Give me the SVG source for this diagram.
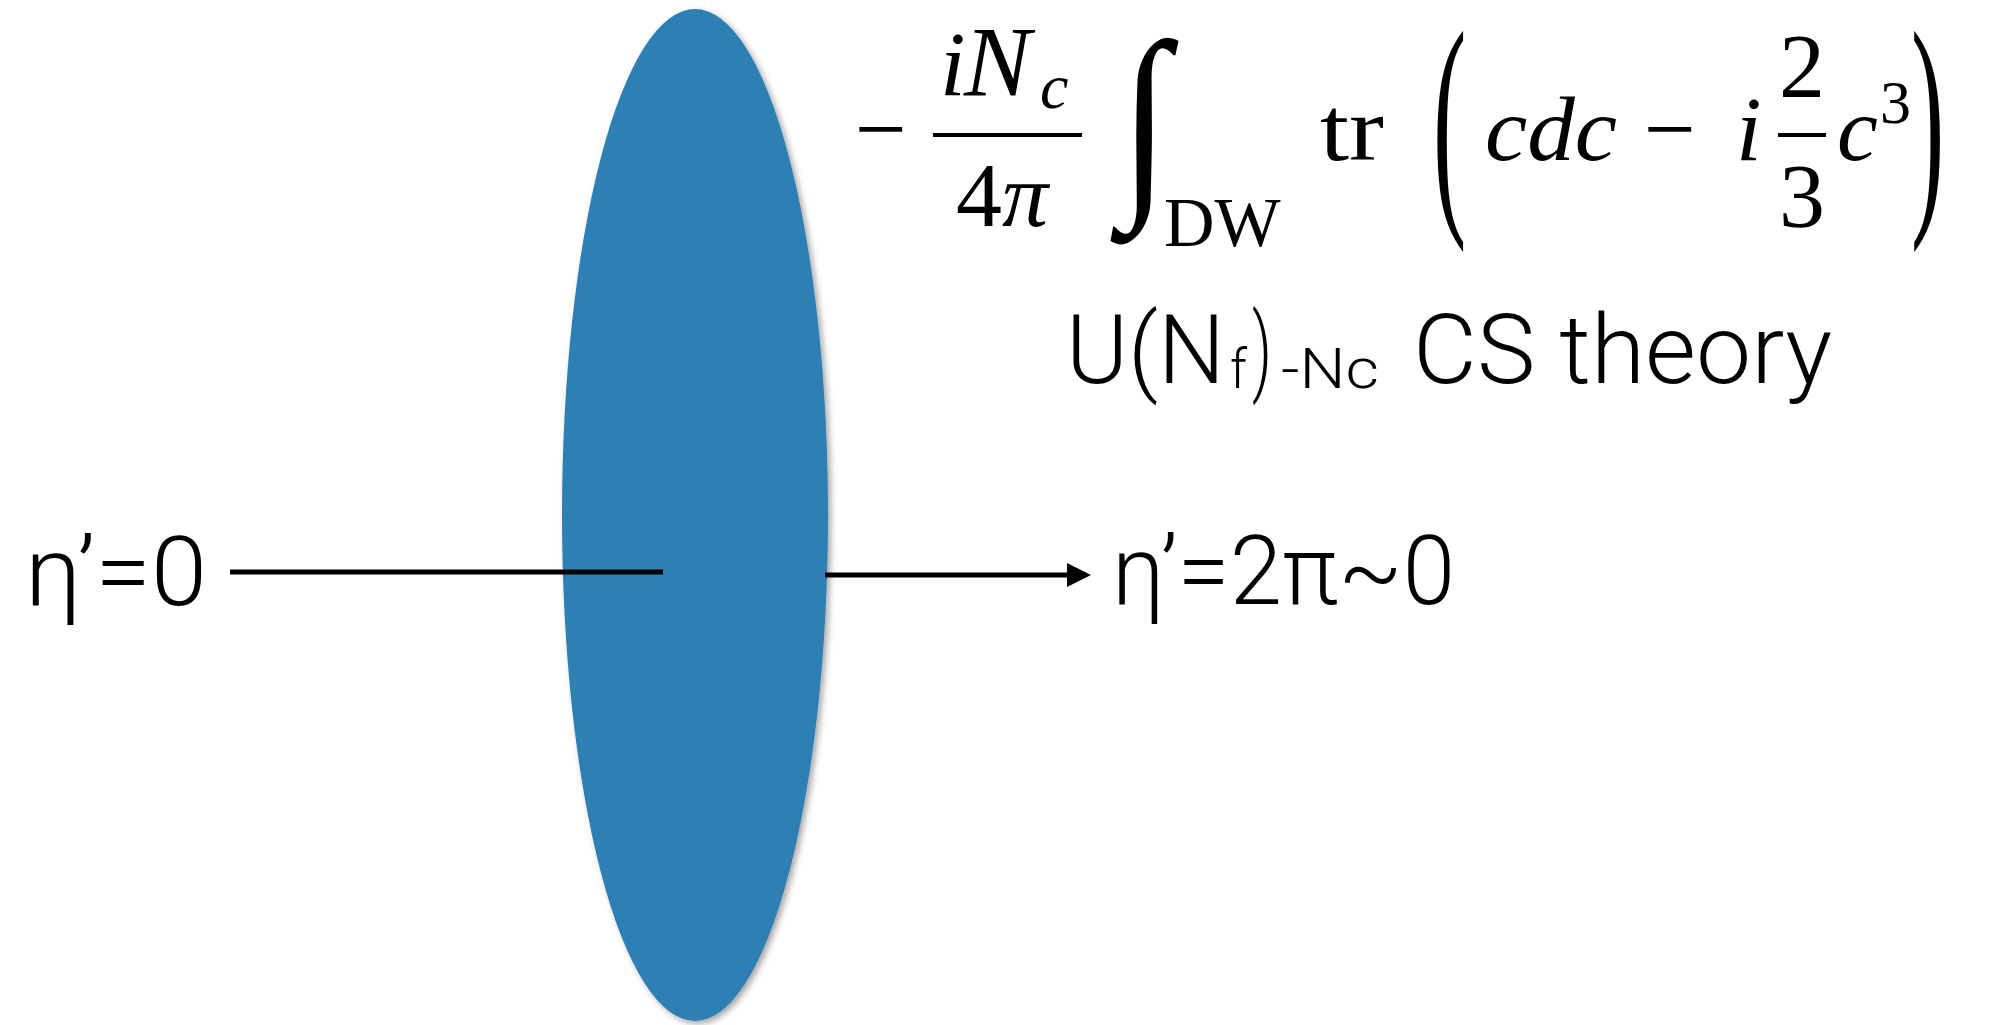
<svg xmlns="http://www.w3.org/2000/svg" width="2006" height="1025" viewBox="0 0 2006 1025">
  <style>
    .lbl { font-family: Roboto, "Liberation Sans", sans-serif; font-weight: 300; fill: #000; }
    .m { font-family: "Liberation Serif", "DejaVu Serif", serif; fill: #000; }
    .it { font-style: italic; }
    .conn { stroke: #000; stroke-width: 5; fill: none; }
  </style>
  <defs>
    <filter id="shadow" x="-20%" y="-5%" width="140%" height="110%">
      <feDropShadow dx="3" dy="3" stdDeviation="3" flood-color="#000" flood-opacity="0.35"/>
    </filter>
    <marker id="arrow" markerUnits="userSpaceOnUse" viewBox="0 0 24 24" markerWidth="24" markerHeight="24" refX="0" refY="12" orient="auto">
      <path d="M0,0 L24,12 L0,24 z" fill="#000"/>
    </marker>
  </defs>
  <rect width="2006" height="1025" fill="#fff"/>

  <g id="domain-wall">
    <ellipse cx="695" cy="515" rx="133" ry="506" fill="#2f80b4" filter="url(#shadow)"/>
  </g>

  <g id="label-left">
    <text class="lbl" x="25" y="605" font-size="97" textLength="182" lengthAdjust="spacingAndGlyphs">η’=0</text>
  </g>

  <g id="label-right">
    <text class="lbl" x="1112" y="604" font-size="97" textLength="343" lengthAdjust="spacingAndGlyphs">η’=2π~0</text>
  </g>

  <g id="label-cs">
    <text class="lbl" x="1066" y="383" font-size="97" textLength="159" lengthAdjust="spacingAndGlyphs">U(N</text>
    <text class="lbl" x="1230" y="388" font-size="56" textLength="17" lengthAdjust="spacingAndGlyphs">f</text>
    <text class="lbl" x="1252" y="383" font-size="97" textLength="20" lengthAdjust="spacingAndGlyphs">)</text>
    <text class="lbl" x="1281" y="388" font-size="56" textLength="98" lengthAdjust="spacingAndGlyphs">-Nc</text>
    <text class="lbl" x="1413" y="383" font-size="97" textLength="419" lengthAdjust="spacingAndGlyphs">CS theory</text>
  </g>

  <g id="formula">
    <text class="m" x="881" y="160" font-size="92" text-anchor="middle">−</text>
    <line x1="933" y1="135" x2="1082" y2="135" stroke="#000" stroke-width="4"/>
    <text class="m it" x="940" y="95" font-size="92">i</text>
    <text class="m it" x="964" y="95" font-size="100">N</text>
    <text class="m it" x="1040" y="108" font-size="64">c</text>
    <text class="m" x="956" y="226" font-size="92">4<tspan class="it">π</tspan></text>
    <text class="m" transform="translate(1120,188) scale(1,1.17)" font-size="180" font-style="italic">∫</text>
    <text class="m" x="1164" y="246" font-size="70">DW</text>
    <text class="m" x="1320" y="160" font-size="92" textLength="64" lengthAdjust="spacingAndGlyphs">tr</text>
    <text class="m" transform="translate(1433,200) scale(1,2.43)" font-size="100">(</text>
    <text class="m it" x="1485" y="160" font-size="92" textLength="132" lengthAdjust="spacingAndGlyphs">cdc</text>
    <text class="m" x="1670" y="160" font-size="92" text-anchor="middle">−</text>
    <text class="m it" x="1736" y="160" font-size="92">i</text>
    <text class="m" x="1802" y="97" font-size="92" text-anchor="middle">2</text>
    <line x1="1778" y1="135" x2="1826" y2="135" stroke="#000" stroke-width="4"/>
    <text class="m" x="1802" y="227" font-size="92" text-anchor="middle">3</text>
    <text class="m it" x="1837" y="160" font-size="92">c</text>
    <text class="m" x="1880" y="123" font-size="62">3</text>
    <text class="m" transform="translate(1911,200) scale(1,2.43)" font-size="100">)</text>
  </g>

  <g id="connectors">
    <line class="conn" x1="230" y1="572" x2="663" y2="572"/>
    <line class="conn" x1="825" y1="575" x2="1067" y2="575" marker-end="url(#arrow)"/>
  </g>
</svg>
